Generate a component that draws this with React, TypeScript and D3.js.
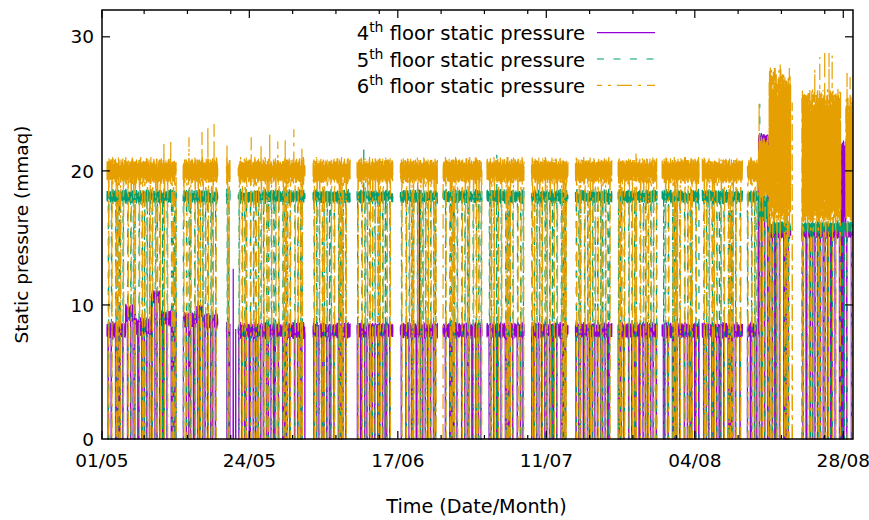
import React from 'react';
import * as d3 from 'd3';

// ---------- axes ----------
const T0 = Date.UTC(2019, 4, 1); // 01/05 00:00
const DAY_MS = 86400000;
const dayToDate = (d: number) => new Date(T0 + d * DAY_MS);

const xDomainDays = [-0.81, 120.57];
const xMajorDates = ['2019-04-30T04:30:00Z', '2019-05-24T00:00:00Z', '2019-06-17T00:00:00Z', '2019-07-11T00:00:00Z', '2019-08-04T00:00:00Z', '2019-08-28T00:00:00Z'];
const xMajorLabels = ['01/05', '24/05', '17/06', '11/07', '04/08', '28/08'];
const xMinorDates = ['2019-05-07', '2019-05-14', '2019-05-21', '2019-05-31', '2019-06-07', '2019-06-14', '2019-06-24', '2019-07-01', '2019-07-08', '2019-07-18', '2019-07-25', '2019-08-01', '2019-08-11', '2019-08-18', '2019-08-25'];
const yDomain = [0, 32];
const yTicks = [0, 10, 20, 30];

// ---------- data ----------
// periods with logged data (days after 01/05 00:00); gaps = no data
const runs: [number, number][] = [
  [0, 11.2], [12.3, 17.9], [19.3, 19.9], [21.2, 32.0], [33.3, 39.3], [40.4, 46.2],
  [47.4, 53.4], [54.3, 60.6], [61.4, 67.4], [68.6, 74.5], [75.7, 81.6], [82.6, 88.9],
  [89.7, 95.7], [96.2, 102.7], [103.5, 110.5], [112.3, 120.57],
];

// operating level per period: [fromDay, toDay, level, half band width, edge raggedness 0..1]
type Seg = [number, number, number | null, number, number];
const level4: Seg[] = [
  [0, 3.0, 8.1, 0.6, 1], [3.0, 4.6, 9.4, 0.6, 1], [4.6, 7.2, 8.4, 0.6, 1], [7.2, 8.6, 10.6, 0.5, 1],
  [8.6, 11.2, 9.0, 0.55, 1], [12.3, 14.5, 8.9, 0.55, 1], [14.5, 15.5, 9.5, 0.45, 1], [15.5, 17.9, 8.8, 0.55, 1],
  [19.3, 105.3, 8.1, 0.55, 1], [105.3, 107.0, 22.3, 0.45, 1], [107.0, 118.6, 15.4, 0.4, 1],
  [118.6, 119.4, 19.2, 3.0, 0.2], [119.4, 120.6, 15.4, 0.4, 1],
];
const level5: Seg[] = [
  [0, 105.3, 18.1, 0.5, 1], [105.3, 107.0, 17.2, 1.0, 0.6], [107.0, 120.6, 15.8, 0.45, 1],
];
const level6: Seg[] = [
  [0, 105.3, 20.0, 0.9, 1], [105.3, 107.0, 20.3, 2.2, 0.4], [107.0, 110.5, 21.9, 5.6, 0.2],
  [112.3, 118.6, 21.1, 4.9, 0.15], [118.6, 119.4, null, 0, 0], [119.4, 120.6, 20.8, 4.6, 0.2],
];

// fluctuation within the band (fraction of half width), per 15-min reading
const ripple = [0.55, -0.9, 1, -0.35, 0.7, -1, 0.4, -0.6, 0.85, -0.8, 0.3, -0.95, 0.65, -0.5, 1, -0.7, 0.2, -0.85, 0.75, -0.4, 0.5, -1, 0.9, -0.55, 0.35, -0.75, 0.6, -0.3, 0.8];
// slower variation of the fluctuation size, per 4-hour block
const envelope = [0.8, 1.05, 0.6, 0.95, 0.7, 1.15, 0.55, 0.9, 1.0, 0.65, 0.85, 1.1, 0.5, 0.95, 0.75, 1.05, 0.6, 0.9, 1.15, 0.7, 0.85, 0.55, 1.0, 0.8, 1.1, 0.65, 0.95, 0.75, 1.05, 0.5, 0.9, 0.7, 1.15, 0.6, 0.85, 1.0, 0.75];

// hours of day when the fans stop and pressures drop to zero
const dropAt = [[4, 16], [9, 15, 21], [2, 13], [7, 19], [5, 11, 23], [3, 15], [0, 10, 20], [6, 18], [1, 12, 22]];
// each floor's lag behind the shared stop (hours)
const dropLag = [0, 1.2, 2.4];
const dropHours = 1.25;
const READS_PER_DAY = 96;

// peaks: [day, value]
const spikes4: [number, number][] = [[37.5, 11.5], [50.2, 19.0], [50.5, 18.6]];
const spikes5: [number, number][] = [[41.5, 21.8], [63.0, 21.2], [105.5, 25.0], [106.7, 20.7], [107.8, 20.7], [109.9, 20.4]];
const spikes6: [number, number][] = [
  [9.2, 22.2], [10.3, 22.3], [13.25, 22.5], [15.35, 22.9], [16.3, 23.2], [17.3, 23.5],
  [19.4, 21.9], [23.3, 22.5], [24.9, 22.0], [26.3, 22.8], [27.6, 22.2], [28.8, 22.4],
  [30.2, 23.1], [31.5, 21.8], [85.5, 21.4], [105.4, 25.1], [107.2, 27.8], [108.0, 27.5],
  [108.8, 28.1], [114.4, 27.6], [115.2, 28.5], [116.0, 29.0], [116.7, 28.8], [117.2, 28.6],
  [119.6, 27.3], [120.1, 27.0],
];
// isolated readings inside data gaps: [day, value]
const lone4: [number, number][] = [[20.4, 12.7], [20.8, 8.2]];
const lone5: [number, number][] = [];
const lone6: [number, number][] = [[110.75, 25.1]];

const seriesNames = ['4', '5', '6'];
const seriesColors = ['#9400d3', '#009e73', '#e69f00'];
const seriesDash = ['none', '7 9.5', '15 6 3 6'];

type Pt = { t: number; v: number | null };

function build(segs: Seg[], lag: number, spikes: [number, number][], lone: [number, number][]): Pt[] {
  const n = READS_PER_DAY;
  const spikeMap = new Map<number, number>();
  spikes.forEach(([d, v]) => spikeMap.set(Math.round(d * n), v));
  const pts: Pt[] = [];
  runs.forEach(([a, b]) => {
    for (let h = Math.ceil(a * n); h <= Math.floor(b * n); h++) {
      const t = h / n;
      const seg = segs.find(s => t >= s[0] && t <= s[1]);
      if (!seg || seg[2] === null) { pts.push({ t, v: null }); continue; }
      const day = Math.floor(t);
      const hr = (t - day) * 24;
      const dl = dropAt[day % dropAt.length];
      const env = 1 + (envelope[Math.floor(h / 16) % envelope.length] - 1) * seg[4];
      let v: number = seg[2] + seg[3] * env * ripple[h % ripple.length];
      if (dl.some(d0 => hr >= d0 + lag && hr < d0 + lag + dropHours)) v = 0;
      if (spikeMap.has(h)) v = spikeMap.get(h)!;
      pts.push({ t, v });
    }
    pts.push({ t: b, v: null });
  });
  lone.forEach(([d, v]) => {
    pts.push({ t: d - 0.03, v: 0 }, { t: d, v }, { t: d + 0.03, v: 0 }, { t: d + 0.03, v: null });
  });
  return pts;
}

const FONT = "'DejaVu Sans', Verdana, sans-serif";

export default function App() {
  const L = 102, R = 853, T = 10, B = 439;
  const x = d3.scaleUtc().domain([dayToDate(xDomainDays[0]), dayToDate(xDomainDays[1])]).range([L, R]);
  const y = d3.scaleLinear().domain(yDomain).range([B, T]);
  const line = d3.line<Pt>()
    .defined(p => p.v !== null)
    .x(p => x(dayToDate(p.t)))
    .y(p => y(p.v as number));

  const data = [
    build(level4, dropLag[0], spikes4, lone4),
    build(level5, dropLag[1], spikes5, lone5),
    build(level6, dropLag[2], spikes6, lone6),
  ];

  const legendX0 = 597, legendX1 = 655, legendTextX = 585;
  const legendY = [32.7, 59.0, 85.3];

  return (
    <svg width={869} height={520} style={{ position: 'absolute', left: 0, top: 0, background: '#fff' }}
      fontFamily={FONT}>
      <rect x={0} y={0} width={869} height={520} fill="#fff" />
      <defs>
        <clipPath id="plotclip"><rect x={L} y={T} width={R - L} height={B - T + 2} /></clipPath>
      </defs>
      <g clipPath="url(#plotclip)">
        {data.map((d, i) => (
          <path key={i} d={line(d) || ''} fill="none" stroke={seriesColors[i]} strokeWidth={1.2}
            strokeDasharray={seriesDash[i]} strokeLinejoin="miter" />
        ))}
      </g>
      {/* border */}
      <rect x={L} y={T} width={R - L} height={B - T} fill="none" stroke="#000" strokeWidth={1.5} />
      {/* y ticks */}
      {yTicks.map(v => (
        <g key={v}>
          {v > 0 && <line x1={L} x2={L + 8} y1={y(v)} y2={y(v)} stroke="#000" strokeWidth={1.2} />}
          {v > 0 && <line x1={R} x2={R - 8} y1={y(v)} y2={y(v)} stroke="#000" strokeWidth={1.2} />}
          <text x={94} y={y(v)} dy="0.36em" textAnchor="end" fontSize={18.5}>{v}</text>
        </g>
      ))}
      {/* x ticks */}
      {xMajorDates.map((s, i) => {
        const px = x(new Date(s));
        return (
          <g key={s}>
            <line x1={px} x2={px} y1={B} y2={B - 8} stroke="#000" strokeWidth={1.2} />
            <line x1={px} x2={px} y1={T} y2={T + 8} stroke="#000" strokeWidth={1.2} />
            <text x={px} y={467} textAnchor="middle" fontSize={18.5}>{xMajorLabels[i]}</text>
          </g>
        );
      })}
      {xMinorDates.map(s => {
        const px = x(new Date(s + 'T00:00:00Z'));
        return (
          <g key={s}>
            <line x1={px} x2={px} y1={B} y2={B - 4} stroke="#000" strokeWidth={1.2} />
            <line x1={px} x2={px} y1={T} y2={T + 4} stroke="#000" strokeWidth={1.2} />
          </g>
        );
      })}
      {/* axis titles */}
      <text x={(L + R) / 2 - 1} y={513} textAnchor="middle" fontSize={19.2}>Time (Date/Month)</text>
      <text transform={`translate(28,${(T + B) / 2 + 10}) rotate(-90)`} textAnchor="middle" fontSize={18.5}>Static pressure (mmaq)</text>
      {/* legend */}
      {seriesNames.map((n, i) => (
        <g key={n}>
          <text x={legendTextX} y={legendY[i] + 7.5} textAnchor="end" fontSize={19.6}>
            <tspan>{n}</tspan>
            <tspan fontSize={14} dy={-8}>th</tspan>
            <tspan dy={8}> floor static pressure</tspan>
          </text>
          <line x1={legendX0} x2={legendX1} y1={legendY[i]} y2={legendY[i]} stroke={seriesColors[i]}
            strokeWidth={1.2} strokeDasharray={seriesDash[i]} strokeDashoffset={i === 2 ? 10 : 0} />
        </g>
      ))}
    </svg>
  );
}
